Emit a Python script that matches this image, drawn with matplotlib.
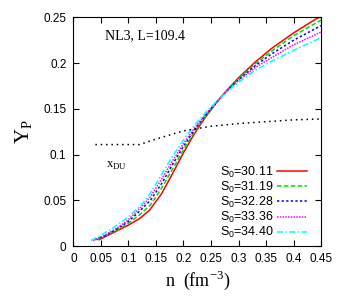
import numpy as np
import matplotlib
matplotlib.use("Agg")
import matplotlib.pyplot as plt

plt.rcParams["font.family"] = ["Liberation Sans", "DejaVu Sans"]
plt.rcParams["mathtext.fontset"] = "custom"
plt.rcParams["mathtext.rm"] = "Liberation Serif"
plt.rcParams["mathtext.sf"] = "Liberation Sans"

# Y_p curves for NL3, L=109.4, several S0 values
x_r = [0.047, 0.06, 0.08, 0.1, 0.12, 0.138, 0.16, 0.18, 0.2, 0.22, 0.24, 0.26, 0.28, 0.3, 0.33, 0.36, 0.4, 0.44, 0.45]
y_r = [0.007, 0.011, 0.017, 0.023, 0.030, 0.039, 0.057, 0.079, 0.102, 0.123, 0.141, 0.157, 0.171, 0.184, 0.201, 0.216, 0.233, 0.248, 0.251]

x_g = [0.043, 0.06, 0.08, 0.1, 0.12, 0.14, 0.16, 0.18, 0.2, 0.22, 0.24, 0.26, 0.28, 0.3, 0.33, 0.36, 0.4, 0.45]
y_g = [0.007, 0.012, 0.018, 0.025, 0.034, 0.045, 0.063, 0.084, 0.105, 0.125, 0.142, 0.157, 0.171, 0.183, 0.199, 0.213, 0.230, 0.247]

x_b = [0.040, 0.06, 0.08, 0.1, 0.12, 0.14, 0.16, 0.18, 0.2, 0.22, 0.24, 0.26, 0.28, 0.3, 0.33, 0.36, 0.4, 0.45]
y_b = [0.007, 0.012, 0.019, 0.027, 0.038, 0.050, 0.068, 0.089, 0.109, 0.127, 0.143, 0.157, 0.170, 0.182, 0.197, 0.210, 0.225, 0.241]

x_m = [0.036, 0.06, 0.08, 0.1, 0.12, 0.13, 0.14, 0.16, 0.18, 0.2, 0.22, 0.24, 0.26, 0.28, 0.3, 0.33, 0.36, 0.4, 0.45]
y_m = [0.006, 0.013, 0.020, 0.029, 0.041, 0.047, 0.054, 0.073, 0.093, 0.112, 0.129, 0.144, 0.158, 0.170, 0.181, 0.195, 0.206, 0.220, 0.234]

x_c = [0.032, 0.05, 0.075, 0.1, 0.125, 0.14, 0.16, 0.18, 0.2, 0.22, 0.24, 0.26, 0.28, 0.3, 0.33, 0.36, 0.4, 0.45]
y_c = [0.006, 0.012, 0.021, 0.032, 0.046, 0.058, 0.078, 0.098, 0.116, 0.132, 0.146, 0.158, 0.169, 0.179, 0.192, 0.202, 0.214, 0.228]

x_du = [0.04, 0.08, 0.12, 0.15, 0.2, 0.25, 0.3, 0.35, 0.4, 0.45]
y_du = [0.111, 0.111, 0.111, 0.117, 0.126, 0.131, 0.134, 0.136, 0.138, 0.139]

labels = ["S$_{\\mathsf{0}}$=30.11", "S$_{\\mathsf{0}}$=31.19", "S$_{\\mathsf{0}}$=32.28",
          "S$_{\\mathsf{0}}$=33.36", "S$_{\\mathsf{0}}$=34.40"]

fig = plt.figure(figsize=(3.38, 3.05), dpi=100)
ax = fig.add_axes([0.217, 0.193, 0.733, 0.750])

ax.plot(x_r, y_r, color="red", lw=1.1, ls="-", label=labels[0])
ax.plot(x_g, y_g, color="#00dd00", lw=1.1, ls=(0, (3, 1.5)), label=labels[1])
ax.plot(x_b, y_b, color="blue", lw=1.1, ls=(0, (1.5, 1.5)), label=labels[2])
ax.plot(x_m, y_m, color="magenta", lw=1.1, ls=(0, (1, 0.8)), label=labels[3])
ax.plot(x_c, y_c, color="cyan", lw=1.1, ls=(0, (4, 1.5, 1, 1.5)), label=labels[4])
ax.plot(x_du, y_du, color="black", lw=1.1, ls=(0, (1, 2.5)))

ax.set_xlim(0, 0.45)
ax.set_ylim(0, 0.25)
ax.set_xticks(np.arange(0, 0.451, 0.05))
ax.set_xticklabels(["0", "0.05", "0.1", "0.15", "0.2", "0.25", "0.3", "0.35", "0.4", "0.45"])
ax.set_yticks(np.arange(0, 0.251, 0.05))
ax.set_yticklabels(["0", "0.05", "0.1", "0.15", "0.2", "0.25"])
ax.tick_params(direction="in", top=True, right=True, labelsize=8.5, length=4, pad=5)

ax.set_xlabel("n  (fm$^{-3}$)", family="Liberation Serif", fontsize=13, labelpad=3)
ax.set_ylabel("Y$_{\\mathrm{P}}$", family="Liberation Serif", fontsize=15, labelpad=6)

ax.text(0.058, 0.226, "NL3, L=109.4", family="Liberation Serif", fontsize=10)
ax.text(0.06, 0.085, "x$_{\\mathrm{DU}}$", family="Liberation Serif", fontsize=9)

leg = ax.legend(loc="lower right", bbox_to_anchor=(1.0, -0.034), frameon=False, fontsize=9,
                handlelength=2.4, markerfirst=False, labelspacing=0.0,
                borderaxespad=0.7, handletextpad=0.3)
for t in leg.get_texts():
    t.set_ha("right")

fig.savefig("out.png", dpi=100)
